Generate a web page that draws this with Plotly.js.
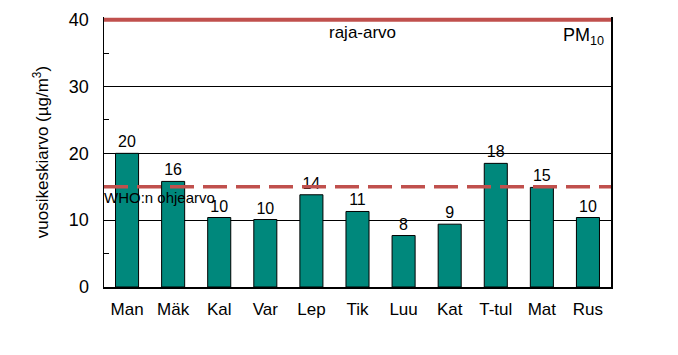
<!DOCTYPE html>
<html><head><meta charset="utf-8">
<script src="https://cdn.plot.ly/plotly-3.0.1.min.js"></script>
<style>body{margin:0;padding:0;background:#fff}#c{width:678px;height:355px}</style>
</head><body><div id="c"></div>
<script>
const categories = ["Man","Mäk","Kal","Var","Lep","Tik","Luu","Kat","T-tul","Mat","Rus"];
const values = [20.0, 15.8, 10.4, 10.1, 13.8, 11.3, 7.7, 9.4, 18.5, 14.9, 10.4];
const valueLabels = ["20","16","10","10","14","11","8","9","18","15","10"];
const limitValue = 40;
const whoValue = 15;
const yTicks = [0,10,20,30,40];

const font = "Liberation Sans, Arial, sans-serif";
const trace = {
  type: "bar", x: categories, y: values, text: valueLabels,
  textposition: "outside", cliponaxis: false,
  textfont: {family: font, size: 16, color: "#000"},
  marker: {color: "#00887C", line: {color: "#000", width: 1}},
  width: 0.5, hoverinfo: "none"
};
const layout = {
  width: 678, height: 355,
  margin: {l: 104, r: 67, t: 17, b: 68},
  paper_bgcolor: "#fff", plot_bgcolor: "#fff",
  showlegend: false,
  font: {family: font, color: "#000"},
  xaxis: {
    type: "category", showline: true, linecolor: "#000", linewidth: 1.5,
    mirror: false, ticks: "", showgrid: false,
    tickfont: {size: 17, family: font}, ticklabelstandoff: 6
  },
  yaxis: {
    range: [0, 40.4], tickvals: yTicks, showline: true, linecolor: "#000", linewidth: 1.5,
    mirror: true, showgrid: true, gridcolor: "#000", gridwidth: 1, zeroline: false,
    ticks: "", tickfont: {size: 18, family: font}, ticklabelstandoff: 10,
    minor: {dtick: 5, ticks: "inside", ticklen: 5, tickcolor: "#000", tickwidth: 1, showgrid: false},
    title: {text: "vuosikeskiarvo (µg/m<sup>3</sup>)", font: {size: 17, family: font}, standoff: 16}
  },
  shapes: [
    {type: "line", xref: "paper", x0: 0, x1: 1, yref: "y", y0: limitValue, y1: limitValue,
     line: {color: "#C0504D", width: 4}},
    {type: "line", xref: "paper", x0: 0, x1: 1, yref: "y", y0: whoValue, y1: whoValue,
     line: {color: "#C0504D", width: 3.5, dash: "24px,9px"}}
  ],
  annotations: [
    {text: "raja-arvo", xref: "paper", yref: "y", x: 0.51, y: limitValue, yshift: -13,
     showarrow: false, font: {size: 17, family: font}},
    {text: "PM<sub>10</sub>", xref: "paper", yref: "y", x: 0.99, y: limitValue, yshift: -17, xanchor: "right",
     showarrow: false, font: {size: 18, family: font}},
    {text: "WHO:n ohjearvo", xref: "paper", yref: "y", x: 0, y: whoValue, yshift: -11, xanchor: "left", xshift: -2,
     showarrow: false, font: {size: 15, family: font}}
  ]
};
Plotly.newPlot("c", [trace], layout, {displayModeBar: false, staticPlot: true});
</script></body></html>
